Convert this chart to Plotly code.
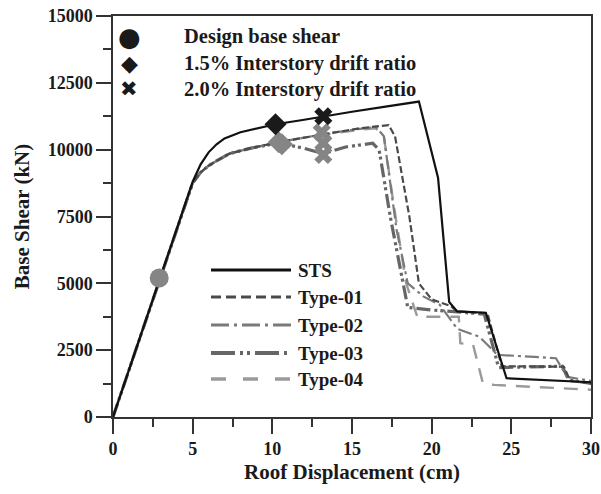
import plotly.graph_objects as go

# ---------------- data ----------------
sts_x = [0, 3, 4.5, 5, 5.5, 6, 6.5, 7, 8, 9, 10.2, 12, 13.2, 15, 17, 19.2, 20.4, 20.8, 21.1, 21.6, 23.4, 24.7, 30]
sts_y = [0, 5250, 7950, 8800, 9450, 9900, 10200, 10420, 10650, 10780, 10950, 11120, 11250, 11420, 11600, 11800, 8950, 6200, 4300, 3950, 3900, 1450, 1300]

t01_x = [0, 3, 4.5, 5, 5.5, 6, 6.5, 7.3, 8.6, 10.4, 12, 13.6, 15.5, 17.3, 17.7, 18.6, 19.2, 20.0, 21.2, 21.6, 23.5, 24.4, 28.3, 28.7, 30]
t01_y = [0, 5250, 7950, 8750, 9150, 9400, 9580, 9850, 10050, 10280, 10450, 10620, 10800, 10920, 10500, 7500, 5000, 4400, 4150, 3950, 3880, 1900, 1880, 1350, 1250]

t02_x = [0, 3, 4.5, 5, 5.5, 6, 6.5, 7.3, 8.6, 10.4, 12, 13.6, 15.5, 16.5, 17.0, 17.8, 18.5, 19.5, 20.5, 21.6, 23.0, 24.0, 24.3, 27.8, 28.5, 30]
t02_y = [0, 5250, 7950, 8750, 9150, 9400, 9580, 9850, 10050, 10280, 10450, 10620, 10780, 10850, 10500, 7000, 5000, 4500, 4200, 3300, 3000, 2400, 2320, 2200, 1500, 1350]

t03_x = [0, 3, 4.5, 5, 5.5, 6, 6.5, 7.3, 8.6, 10.4, 12, 13.2, 14.6, 16.3, 16.7, 17.4, 18.5, 20.0, 21.2, 23.3, 24.2, 28.2, 28.6, 30]
t03_y = [0, 5250, 7950, 8750, 9150, 9400, 9580, 9850, 10050, 10250, 10050, 9850, 10100, 10240, 10000, 7500, 4100, 4000, 3950, 3850, 1850, 1900, 1380, 1260]

t04_x = [0, 3, 4.5, 5, 5.5, 6, 6.5, 7.3, 8.6, 10.4, 12, 13.6, 15.5, 16.5, 17.0, 17.6, 18.4, 19.1, 21.7, 21.8, 22.6, 23.2, 23.9, 30]
t04_y = [0, 5250, 7950, 8750, 9150, 9400, 9580, 9850, 10050, 10280, 10450, 10600, 10750, 10800, 10500, 8000, 5000, 3750, 3750, 2760, 2700, 1300, 1200, 1020]

design_x = [2.9]
design_y = [5200]
drift15_black_x = [10.2]
drift15_black_y = [10950]
drift15_gray_x = [10.4, 10.6]
drift15_gray_y = [10280, 10200]
drift20_black_x = [13.2]
drift20_black_y = [11250]
drift20_gray_x = [13.1, 13.2, 13.2]
drift20_gray_y = [10650, 10250, 9800]

series_names = ["STS", "Type-01", "Type-02", "Type-03", "Type-04"]
marker_labels = ["Design base shear", "1.5% Interstory drift ratio", "2.0% Interstory drift ratio"]
x_title = "Roof Displacement (cm)"
y_title = "Base Shear (kN)"

# ---------------- styles ----------------
W, H = 601, 494
L, R, T, B = 113, 10, 16, 77
FONT = "Liberation Serif"
TXT = "#1a1a1a"

styles = {
    "STS": dict(color="#111111", width=2.2, dash="solid"),
    "Type-01": dict(color="#4a4a4a", width=2.2, dash="7px,3px"),
    "Type-02": dict(color="#7a7a7a", width=2.2, dash="14px,4px,3px,4px"),
    "Type-03": dict(color="#666666", width=3.2, dash="14px,4px,3px,3px,3px,4px"),
    "Type-04": dict(color="#9a9a9a", width=2.4, dash="14px,10px"),
}
legend_dash = {
    "STS": "solid",
    "Type-01": "10px,5px",
    "Type-02": "18px,5px,3px,5px",
    "Type-03": "24px,5px,3px,4px,3px,5px",
    "Type-04": "15px,17px",
}

fig = go.Figure()
curves = {"Type-04": (t04_x, t04_y), "Type-03": (t03_x, t03_y), "Type-02": (t02_x, t02_y),
          "Type-01": (t01_x, t01_y), "STS": (sts_x, sts_y)}
for name, (xs, ys) in curves.items():
    st = styles[name]
    fig.add_trace(go.Scatter(x=xs, y=ys, mode="lines", name=name, showlegend=False,
                             line=dict(color=st["color"], width=st["width"], dash=st["dash"])))

def mk(xs, ys, sym, color, size):
    fig.add_trace(go.Scatter(x=xs, y=ys, mode="markers", showlegend=False,
                             marker=dict(symbol=sym, color=color, size=size,
                                         line=dict(width=0))))

mk(drift15_gray_x, drift15_gray_y, "diamond", "#858585", 17)
mk(drift20_gray_x, drift20_gray_y, "x", "#858585", 16)
mk(drift15_black_x, drift15_black_y, "diamond", "#1a1a1a", 17)
mk(drift20_black_x, drift20_black_y, "x", "#1a1a1a", 16)
mk(design_x, design_y, "circle", "#858585", 19)

# ---------------- legends (text + shapes) ----------------
def px(xp):
    return (xp - L) / (W - L - R)

def py(yp):
    return 1 - (yp - T) / (H - T - B)

anns = []
shapes = []
marker_glyphs = ["\u25CF", "\u25C6", "\u2716"]
glyph_sizes = [26, 22, 21]
marker_rows = [37, 63, 89]
for g, gs, lab, yp in zip(marker_glyphs, glyph_sizes, marker_labels, marker_rows):
    anns.append(dict(x=px(129), y=py(yp), xref="paper", yref="paper", text=g, showarrow=False,
                     font=dict(family="DejaVu Sans", size=gs, color="#1a1a1a"),
                     xanchor="center", yanchor="middle"))
    anns.append(dict(x=px(182), y=py(yp), xref="paper", yref="paper", text="<b>%s</b>" % lab,
                     showarrow=False, font=dict(family=FONT, size=20.5, color=TXT),
                     xanchor="left", yanchor="middle"))

line_rows = [270, 297, 325, 353, 379]
for name, yp in zip(series_names, line_rows):
    st = styles[name]
    shapes.append(dict(type="line", xref="paper", yref="paper", x0=px(211), x1=px(291),
                       y0=py(yp), y1=py(yp),
                       line=dict(color=st["color"], width=st["width"] + 1.0, dash=legend_dash[name])))
    anns.append(dict(x=px(296), y=py(yp), xref="paper", yref="paper", text="<b>%s</b>" % name,
                     showarrow=False, font=dict(family=FONT, size=19, color=TXT),
                     xanchor="left", yanchor="middle"))

axis_common = dict(showgrid=False, zeroline=False, showline=True, linecolor="#333333",
                   linewidth=1.5, mirror=True, ticks="outside", ticklen=15, tickwidth=1.5,
                   tickcolor="#333333",
                   tickfont=dict(family=FONT, size=18, color=TXT))

fig.update_xaxes(range=[0, 30], tickvals=[0, 5, 10, 15, 20, 25, 30],
                 ticktext=["<b>%d</b>" % v for v in [0, 5, 10, 15, 20, 25, 30]],
                 minor=dict(dtick=2.5, tick0=0, ticks="outside", ticklen=8, tickwidth=1.5,
                            tickcolor="#333333"),
                 title=dict(text="<b>%s</b>" % x_title, font=dict(family=FONT, size=21, color=TXT),
                            standoff=6),
                 **axis_common)
fig.update_yaxes(range=[0, 15000], tickvals=[0, 2500, 5000, 7500, 10000, 12500, 15000],
                 ticktext=["<b>%d</b>" % v for v in [0, 2500, 5000, 7500, 10000, 12500, 15000]],
                 minor=dict(dtick=1250, tick0=0, ticks="outside", ticklen=8, tickwidth=1.5,
                            tickcolor="#333333"),
                 title=dict(text="<b>%s</b>" % y_title, font=dict(family=FONT, size=21, color=TXT),
                            standoff=12),
                 **axis_common)

fig.update_layout(width=W, height=H, margin=dict(l=L, r=R, t=T, b=B, autoexpand=False),
                  plot_bgcolor="white", paper_bgcolor="white",
                  annotations=anns, shapes=shapes, showlegend=False)

fig.write_html("out.html")
